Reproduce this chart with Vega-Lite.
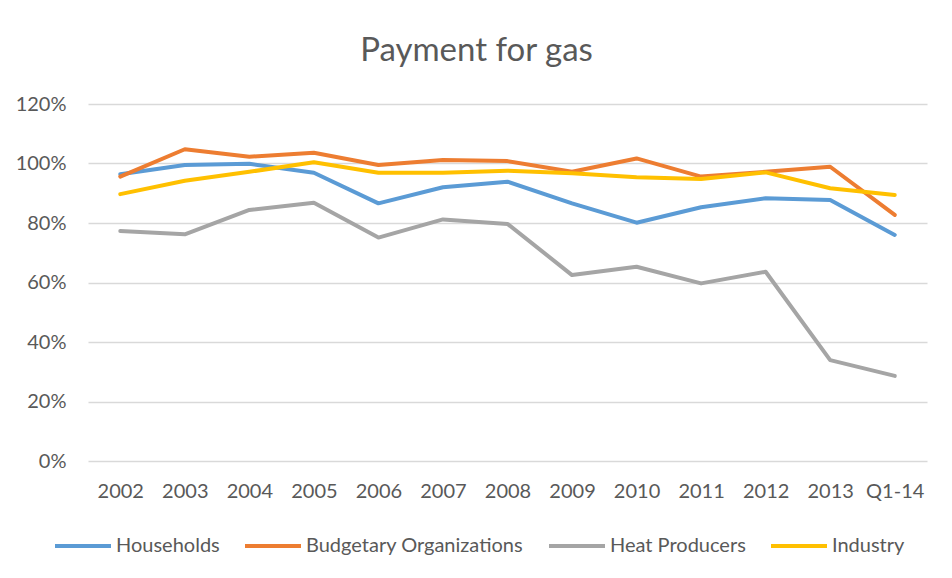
{
  "$schema": "https://vega.github.io/schema/vega-lite/v6.json",
  "autosize": "none",
  "width": 839,
  "height": 357,
  "padding": {"left": 88, "top": 104, "right": 25, "bottom": 117},
  "background": "white",
  "title": {
    "text": "Payment for gas",
    "fontSize": 33,
    "font": "Lato",
    "fontWeight": "normal",
    "color": "#595959",
    "anchor": "middle",
    "dx": -31,
    "offset": 26
  },
  "config": {
    "view": {"stroke": null},
    "font": "Lato"
  },
  "data": {
    "values": [
      {"period": "2002", "series": "Households", "value": 96.4},
      {"period": "2003", "series": "Households", "value": 99.5},
      {"period": "2004", "series": "Households", "value": 99.9},
      {"period": "2005", "series": "Households", "value": 96.9},
      {"period": "2006", "series": "Households", "value": 86.6},
      {"period": "2007", "series": "Households", "value": 92.0},
      {"period": "2008", "series": "Households", "value": 93.9},
      {"period": "2009", "series": "Households", "value": 86.6},
      {"period": "2010", "series": "Households", "value": 80.1},
      {"period": "2011", "series": "Households", "value": 85.3},
      {"period": "2012", "series": "Households", "value": 88.3},
      {"period": "2013", "series": "Households", "value": 87.7},
      {"period": "Q1-14", "series": "Households", "value": 76.0},
      {"period": "2002", "series": "Budgetary Organizations", "value": 95.6},
      {"period": "2003", "series": "Budgetary Organizations", "value": 104.8},
      {"period": "2004", "series": "Budgetary Organizations", "value": 102.3},
      {"period": "2005", "series": "Budgetary Organizations", "value": 103.6},
      {"period": "2006", "series": "Budgetary Organizations", "value": 99.5},
      {"period": "2007", "series": "Budgetary Organizations", "value": 101.2},
      {"period": "2008", "series": "Budgetary Organizations", "value": 100.8},
      {"period": "2009", "series": "Budgetary Organizations", "value": 97.2},
      {"period": "2010", "series": "Budgetary Organizations", "value": 101.7},
      {"period": "2011", "series": "Budgetary Organizations", "value": 95.6},
      {"period": "2012", "series": "Budgetary Organizations", "value": 97.2},
      {"period": "2013", "series": "Budgetary Organizations", "value": 98.9},
      {"period": "Q1-14", "series": "Budgetary Organizations", "value": 82.7},
      {"period": "2002", "series": "Heat Producers", "value": 77.3},
      {"period": "2003", "series": "Heat Producers", "value": 76.2},
      {"period": "2004", "series": "Heat Producers", "value": 84.4},
      {"period": "2005", "series": "Heat Producers", "value": 86.8},
      {"period": "2006", "series": "Heat Producers", "value": 75.1},
      {"period": "2007", "series": "Heat Producers", "value": 81.2},
      {"period": "2008", "series": "Heat Producers", "value": 79.7},
      {"period": "2009", "series": "Heat Producers", "value": 62.5},
      {"period": "2010", "series": "Heat Producers", "value": 65.3},
      {"period": "2011", "series": "Heat Producers", "value": 59.7},
      {"period": "2012", "series": "Heat Producers", "value": 63.6},
      {"period": "2013", "series": "Heat Producers", "value": 33.9},
      {"period": "Q1-14", "series": "Heat Producers", "value": 28.6},
      {"period": "2002", "series": "Industry", "value": 89.7},
      {"period": "2003", "series": "Industry", "value": 94.2},
      {"period": "2004", "series": "Industry", "value": 97.2},
      {"period": "2005", "series": "Industry", "value": 100.4},
      {"period": "2006", "series": "Industry", "value": 96.9},
      {"period": "2007", "series": "Industry", "value": 96.9},
      {"period": "2008", "series": "Industry", "value": 97.6},
      {"period": "2009", "series": "Industry", "value": 96.7},
      {"period": "2010", "series": "Industry", "value": 95.4},
      {"period": "2011", "series": "Industry", "value": 94.8},
      {"period": "2012", "series": "Industry", "value": 97.0},
      {"period": "2013", "series": "Industry", "value": 91.7},
      {"period": "Q1-14", "series": "Industry", "value": 89.4}
    ]
  },
  "mark": {"type": "line", "strokeWidth": 4, "strokeCap": "round", "strokeJoin": "round"},
  "encoding": {
    "x": {
      "field": "period",
      "type": "ordinal",
      "scale": {"type": "point", "padding": 0.5},
      "sort": null,
      "axis": {
        "title": null,
        "labelAngle": 0,
        "labelFontSize": 20,
        "labelColor": "#595959",
        "labelPadding": 20,
        "ticks": false,
        "domain": false,
        "grid": false
      }
    },
    "y": {
      "field": "value",
      "type": "quantitative",
      "scale": {"domain": [0, 120], "nice": false},
      "axis": {
        "title": null,
        "values": [0, 20, 40, 60, 80, 100, 120],
        "labelExpr": "datum.value + '%'",
        "labelFontSize": 20,
        "labelColor": "#595959",
        "labelPadding": 22,
        "ticks": false,
        "domain": false,
        "gridColor": "#D9D9D9",
        "gridWidth": 1.3
      }
    },
    "color": {
      "field": "series",
      "type": "nominal",
      "scale": {
        "domain": ["Households", "Budgetary Organizations", "Heat Producers", "Industry"],
        "range": ["#5B9BD5", "#ED7D31", "#A5A5A5", "#FFC000"]
      },
      "legend": {
        "title": null,
        "orient": "none",
        "direction": "horizontal",
        "legendX": -35,
        "legendY": 412,
        "symbolType": "stroke",
        "symbolSize": 3136,
        "symbolStrokeWidth": 4,
        "labelFontSize": 20,
        "labelLimit": 0,
        "labelColor": "#595959",
        "labelOffset": 3,
        "columnPadding": 17
      }
    }
  }
}
